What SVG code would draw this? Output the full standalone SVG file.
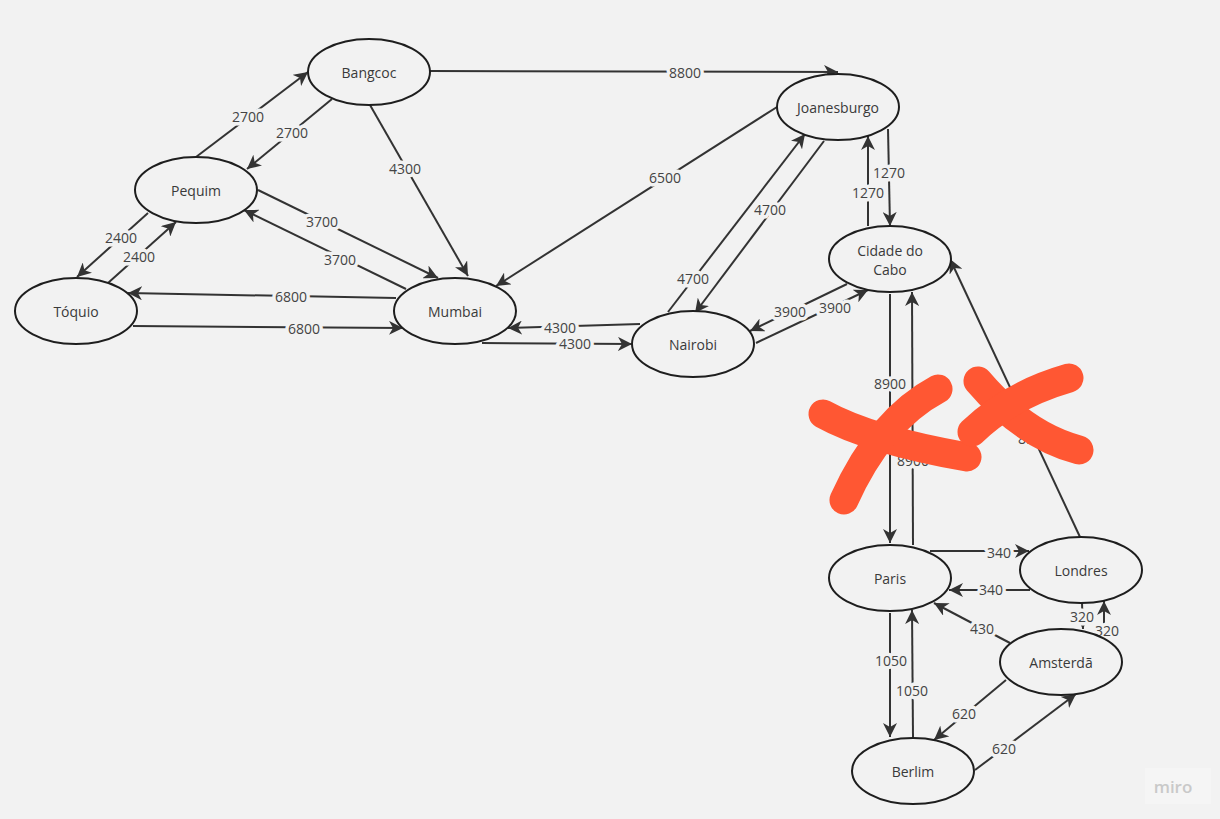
<svg xmlns="http://www.w3.org/2000/svg" width="1220" height="819" viewBox="0 0 1220 819">
  <style>
    .node ellipse { fill: #f2f2f2; stroke: #1e1e1e; stroke-width: 2; }
    .node text { font-family: "Open Sans", "Liberation Sans", sans-serif; font-size: 14px; fill: #3a3a3a; text-anchor: middle; dominant-baseline: central; }
    .edges line { stroke: #333333; stroke-width: 2; fill: none; marker-end: url(#arrow); }
    .lbl { font-family: "Open Sans", "Liberation Sans", sans-serif; font-size: 14px; fill: #444444; text-anchor: middle; dominant-baseline: central; stroke: #f2f2f2; stroke-width: 7; paint-order: stroke; stroke-linejoin: round; }
    .strike path { fill: none; stroke: #ff5733; stroke-width: 29; stroke-linecap: round; stroke-linejoin: round; }
  </style>
  <defs>
    <marker id="arrow" markerUnits="userSpaceOnUse" markerWidth="16" markerHeight="14" refX="14" refY="7" orient="auto">
      <path d="M0,0 L14,7 L0,14 L4,7 z" fill="#333333"/>
    </marker>
  </defs>

  <rect width="1220" height="819" fill="#f2f2f2"/>

  <!-- connectors -->
  <g id="connectors" class="edges">
    <line x1="430" y1="71" x2="838" y2="72"/>
    <line x1="196" y1="157" x2="308" y2="72"/>
    <line x1="332" y1="99" x2="247" y2="169"/>
    <line x1="370" y1="105" x2="468" y2="276"/>
    <line x1="258" y1="190" x2="438" y2="278"/>
    <line x1="406" y1="289" x2="244" y2="210"/>
    <line x1="148" y1="213" x2="77" y2="277"/>
    <line x1="108" y1="283" x2="176" y2="222"/>
    <line x1="396" y1="298" x2="128" y2="293"/>
    <line x1="133" y1="326" x2="403" y2="328"/>
    <line x1="777" y1="107" x2="496" y2="286"/>
    <line x1="640" y1="324" x2="508" y2="328"/>
    <line x1="482" y1="343" x2="632" y2="344"/>
    <line x1="668" y1="312" x2="805" y2="134"/>
    <line x1="824" y1="141" x2="695" y2="313"/>
    <line x1="888" y1="129" x2="890" y2="226"/>
    <line x1="868" y1="226" x2="868" y2="136"/>
    <line x1="847" y1="284" x2="750" y2="331"/>
    <line x1="756" y1="343" x2="868" y2="290"/>
    <line x1="890" y1="294" x2="890" y2="543"/>
    <line x1="913" y1="545" x2="912" y2="292"/>
    <line x1="1080" y1="537" x2="950" y2="259"/>
    <line x1="930" y1="551" x2="1029" y2="551"/>
    <line x1="1030" y1="590" x2="949" y2="590"/>
    <line x1="1010" y1="643" x2="934" y2="603"/>
    <line x1="1082" y1="603" x2="1083" y2="629"/>
    <line x1="1104" y1="628" x2="1104" y2="601"/>
    <line x1="890" y1="613" x2="890" y2="737"/>
    <line x1="913" y1="738" x2="912" y2="610"/>
    <line x1="1006" y1="680" x2="934" y2="740"/>
    <line x1="975" y1="770" x2="1076" y2="694"/>

    <!-- edge weights -->
    <text class="lbl" x="685" y="72">8800</text>
    <text class="lbl" x="248" y="116">2700</text>
    <text class="lbl" x="292" y="132">2700</text>
    <text class="lbl" x="405" y="168">4300</text>
    <text class="lbl" x="322" y="221">3700</text>
    <text class="lbl" x="340" y="259">3700</text>
    <text class="lbl" x="121" y="237">2400</text>
    <text class="lbl" x="139" y="256">2400</text>
    <text class="lbl" x="291" y="296">6800</text>
    <text class="lbl" x="304" y="328">6800</text>
    <text class="lbl" x="665" y="177">6500</text>
    <text class="lbl" x="560" y="327">4300</text>
    <text class="lbl" x="575" y="343">4300</text>
    <text class="lbl" x="693" y="278">4700</text>
    <text class="lbl" x="770" y="209">4700</text>
    <text class="lbl" x="889" y="172">1270</text>
    <text class="lbl" x="868" y="192">1270</text>
    <text class="lbl" x="790" y="311">3900</text>
    <text class="lbl" x="835" y="307">3900</text>
    <text class="lbl" x="890" y="383">8900</text>
    <text class="lbl" x="913" y="460">8900</text>
    <text class="lbl" x="1034" y="438">8900</text>
    <text class="lbl" x="999" y="552">340</text>
    <text class="lbl" x="991" y="589">340</text>
    <text class="lbl" x="982" y="628">430</text>
    <text class="lbl" x="1082" y="616">320</text>
    <text class="lbl" x="1107" y="630">320</text>
    <text class="lbl" x="891" y="660">1050</text>
    <text class="lbl" x="912" y="690">1050</text>
    <text class="lbl" x="964" y="713">620</text>
    <text class="lbl" x="1004" y="748">620</text>
  </g>

  <!-- cities -->
  <g id="bangcoc" class="node"><ellipse cx="369" cy="72" rx="61" ry="33"/><text x="369" y="72">Bangcoc</text></g>
  <g id="pequim" class="node"><ellipse cx="196" cy="190" rx="61" ry="33"/><text x="196" y="190">Pequim</text></g>
  <g id="toquio" class="node"><ellipse cx="76" cy="311" rx="61" ry="33"/><text x="76" y="311">Tóquio</text></g>
  <g id="mumbai" class="node"><ellipse cx="455" cy="311" rx="61" ry="33"/><text x="455" y="311">Mumbai</text></g>
  <g id="joanesburgo" class="node"><ellipse cx="838" cy="107" rx="61" ry="33"/><text x="838" y="107">Joanesburgo</text></g>
  <g id="cidade-do-cabo" class="node"><ellipse cx="890" cy="259" rx="61" ry="33"/><text x="890" y="250">Cidade do</text><text x="890" y="269">Cabo</text></g>
  <g id="nairobi" class="node"><ellipse cx="693" cy="344" rx="61" ry="33"/><text x="693" y="344">Nairobi</text></g>
  <g id="paris" class="node"><ellipse cx="890" cy="578" rx="61" ry="33"/><text x="890" y="578">Paris</text></g>
  <g id="londres" class="node"><ellipse cx="1081" cy="570" rx="61" ry="33"/><text x="1081" y="570">Londres</text></g>
  <g id="amsterda" class="node"><ellipse cx="1061" cy="662" rx="61" ry="33"/><text x="1061" y="662">Amsterdã</text></g>
  <g id="berlim" class="node"><ellipse cx="913" cy="771" rx="61" ry="33"/><text x="913" y="771">Berlim</text></g>

  <!-- hand-drawn strike marks -->
  <g id="strikes" class="strike">
    <path d="M823,414 Q870,440 967,457"/>
    <path d="M938,389 Q880,420 844,500"/>
    <path d="M978,381 Q1025,436 1079,450"/>
    <path d="M972,432 Q1010,395 1069,378"/>
  </g>

  <!-- watermark -->
  <rect x="1145" y="768" width="66" height="36" fill="#f5f5f5"/>
  <text x="1173" y="786" font-family="'Open Sans', 'Liberation Sans', sans-serif" font-size="17" font-weight="600" fill="#c9c9c9" text-anchor="middle" dominant-baseline="central">miro</text>
</svg>
